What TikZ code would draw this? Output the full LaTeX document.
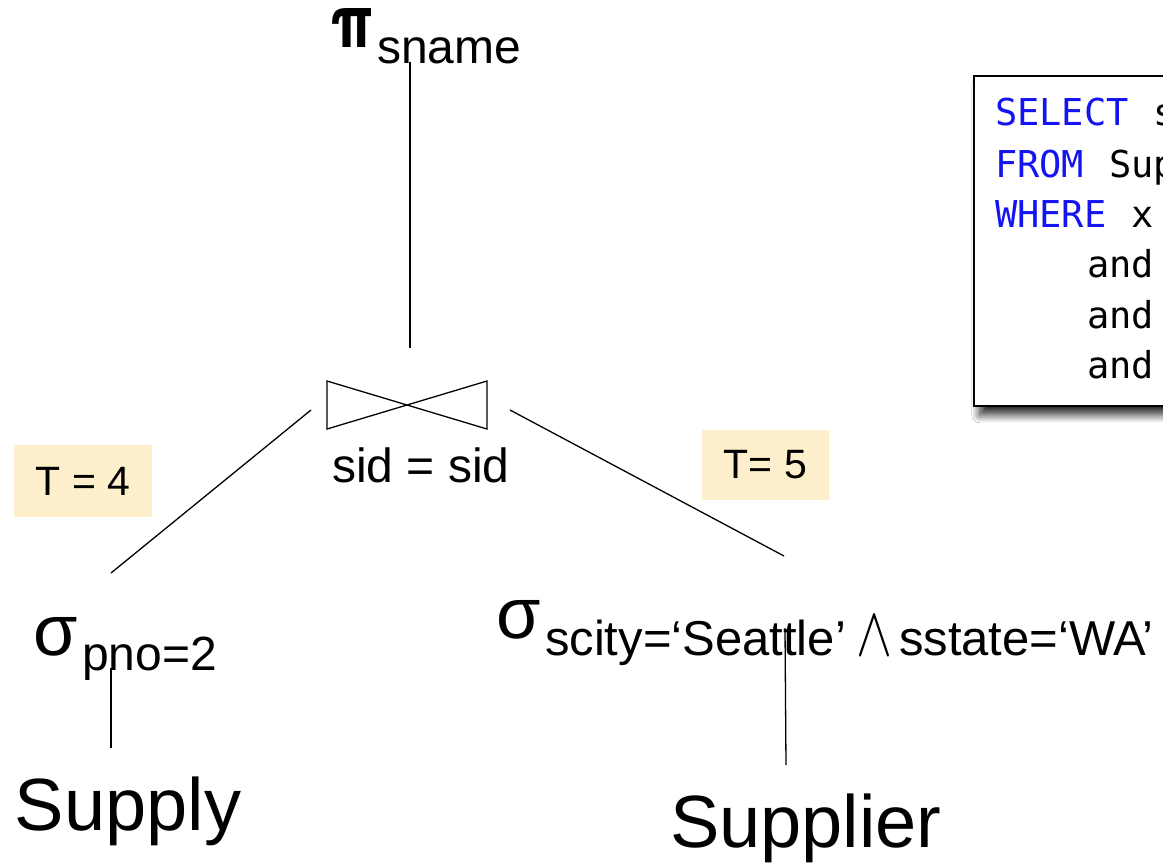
\documentclass[tikz,border=0pt]{standalone}
\usepackage{fontspec}
\setmainfont{Liberation Sans}
\newfontfamily\sqlmono{DejaVu Sans Mono}
\newfontfamily\heros{TeX Gyre Heros}
\usetikzlibrary{shadows.blur}
\definecolor{tfill}{RGB}{253,238,204}
\definecolor{kwblue}{RGB}{20,20,240}
\tikzset{
  txt/.style={anchor=base west, inner sep=0pt, outer sep=0pt},
  big/.style={txt, font=\fontsize{74}{74}\selectfont},
  greek/.style={txt, font=\fontsize{72}{72}\selectfont},
  sub/.style={txt, font=\fontsize{48}{48}\selectfont},
  tbox/.style={fill=tfill, inner sep=0pt, font=\fontsize{41}{41}\selectfont},
  edge/.style={line width=1.3pt},
  sqltxt/.style={txt, font=\sqlmono\fontsize{37}{37}\selectfont},
  kw/.style={sqltxt, text=kwblue},
}
\begin{document}
\begin{tikzpicture}[x=1pt,y=-1pt]
\useasboundingbox (0,0) rectangle (1163,865);
\clip (0,0) rectangle (1163,865);
\fill[white] (0,0) rectangle (1163,865);

% SQL box
\node[draw, line width=1.5pt, fill=white, anchor=north west, minimum width=260pt, minimum height=330pt,
      blur shadow={shadow xshift=6pt, shadow yshift=-9pt, shadow blur steps=12, shadow blur radius=8pt, shadow opacity=85}] (sql) at (973,75) {};
\node[kw] (s1) at (995,125) {SELECT};
\node[sqltxt] (s1b) at (1153,125) {s};
\node[kw] (s2) at (995,177) {FROM};
\node[sqltxt] (s2b) at (1109,177) {Sup};
\node[kw] (s3) at (995,227) {WHERE};
\node[sqltxt] (s3b) at (1131,227) {x};
\node[sqltxt] (s4) at (1087,277) {and};
\node[sqltxt] (s5) at (1087,328) {and};
\node[sqltxt] (s6) at (1087,378) {and};

% projection
\node[txt] (pi) at (330,47) {\resizebox{43pt}{39pt}{\heros\bfseries π}};
\node[sub] (pisub) at (377,63) {sname};

% join
\coordinate (join) at (407,404);
\draw[edge] (327,381) -- (487,429) -- (487,381) -- (327,429) -- cycle;
\node[sub] (joinlab) at (332,482) {sid = sid};

% selections
\node[greek] (sig1) at (33,655) {σ};
\node[sub] (sig1sub) at (82,670) {pno=2};
\node[greek] (sig2) at (496,638) {σ};
\node[sub, font=\fontsize{49}{49}\selectfont] (sig2sub) at (545,655) {scity=‘Seattle’};
\node[txt] (wedge) at (856,655) {\resizebox{36pt}{39pt}{$\wedge$}};
\node[sub, font=\fontsize{49}{49}\selectfont] (sig2sub2) at (899,655) {sstate=‘WA’};

% relations
\node[big] (supply) at (15,830) {Supply};
\node[big] (supplier) at (670,847) {Supplier};

% cost boxes
\node[tbox, minimum width=138pt, minimum height=72pt] (t4) at (83,481) {T = 4};
\node[tbox, minimum width=127pt, minimum height=70pt] (t5) at (765.5,465) {T= 5};

% connector end points
\coordinate (piB) at (410,62);
\coordinate (joinT) at (410,348);
\coordinate (joinL) at (311,410);
\coordinate (joinR) at (510,410);
\coordinate (sig1T) at (111,573);
\coordinate (sig2T) at (784,556);
\coordinate (sig1B) at (111,668);
\coordinate (supplyT) at (111,748);
\coordinate (sig2B) at (785,628);
\coordinate (supplierT) at (786,765);

\draw[edge] (piB) -- (joinT);
\draw[edge] (joinL) -- (sig1T);
\draw[edge] (joinR) -- (sig2T);
\draw[edge] (sig1B) -- (supplyT);
\draw[edge] (sig2B) -- (supplierT);
\end{tikzpicture}
\end{document}
